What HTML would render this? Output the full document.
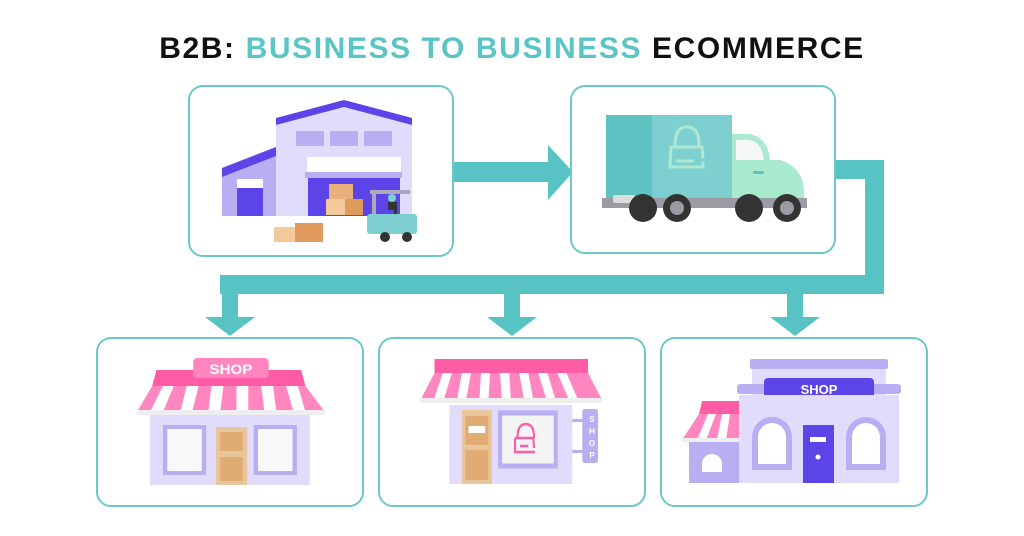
<!DOCTYPE html>
<html><head><meta charset="utf-8"><style>
html,body{margin:0;padding:0;background:#fff;width:1024px;height:536px;overflow:hidden}
svg{display:block}
</style></head><body>
<svg width="1024" height="536" viewBox="0 0 1024 536" xmlns="http://www.w3.org/2000/svg">
<text x="512" y="58" text-anchor="middle" font-family="Liberation Sans, sans-serif" font-weight="bold" font-size="30" letter-spacing="1.6"><tspan fill="#111">B2B: </tspan><tspan fill="#5bc4c4">BUSINESS TO BUSINESS </tspan><tspan fill="#111">ECOMMERCE</tspan></text>

<!-- connectors -->
<g fill="#58c3c5">
<rect x="453" y="162" width="97" height="20"/>
<polygon points="548,145 573,172 548,200"/>
<rect x="835" y="160" width="49" height="19"/>
<rect x="865" y="160" width="19" height="133"/>
<rect x="220" y="275" width="664" height="19"/>
<rect x="222" y="293" width="16" height="24"/><polygon points="205,317 255,317 230,336"/>
<rect x="504" y="293" width="16" height="24"/><polygon points="487,317 537,317 512,336"/>
<rect x="787" y="293" width="16" height="24"/><polygon points="770,317 820,317 795,336"/>
</g>

<!-- boxes -->
<g fill="#fff" stroke="#6cc8c8" stroke-width="2">
<rect x="189" y="86" width="264" height="170" rx="14"/>
<rect x="571" y="86" width="264" height="167" rx="14"/>
<rect x="97" y="338" width="266" height="168" rx="14"/>
<rect x="379" y="338" width="266" height="168" rx="14"/>
<rect x="661" y="338" width="266" height="168" rx="14"/>
</g>

<!-- warehouse -->
<polygon points="222,172 276,150 276,216 222,216" fill="#b9aef2"/>
<polygon points="222,168 276,147 276,156 222,177" fill="#5b45e8"/>
<rect x="237" y="179" width="26" height="37" fill="#5b45e8"/><rect x="237" y="179" width="26" height="9" fill="#fff"/>
<polygon points="276,124 344,104 412,124 412,216 276,216" fill="#e0dcfb"/>
<polygon points="276,118 344,100 412,118 412,125 344,107 276,125" fill="#5b45e8"/>
<rect x="296" y="131" width="28" height="15" fill="#b9aef2"/><rect x="330" y="131" width="28" height="15" fill="#b9aef2"/><rect x="364" y="131" width="28" height="15" fill="#b9aef2"/>
<rect x="307" y="157" width="94" height="15" fill="#fff"/>
<rect x="305" y="172" width="97" height="6" fill="#b9aef2"/>
<rect x="308" y="178" width="92" height="38" fill="#5b45e8"/>
<rect x="329" y="184" width="24" height="16" fill="#e8b07a"/><rect x="326" y="199" width="22" height="16" fill="#f3c99b"/><rect x="345" y="199" width="18" height="16" fill="#e09a5c"/>
<rect x="274" y="227" width="22" height="15" fill="#f3c99b"/><rect x="295" y="223" width="28" height="19" fill="#e09a5c"/>
<rect x="370" y="190" width="40" height="4" fill="#aab"/><rect x="372" y="190" width="4" height="40" fill="#aab"/>
<rect x="367" y="214" width="50" height="20" rx="3" fill="#7ecfcf"/>
<circle cx="385" cy="237" r="5" fill="#333"/><circle cx="407" cy="237" r="5" fill="#333"/>
<circle cx="392" cy="198" r="4" fill="#7ecfcf"/><rect x="388" y="202" width="9" height="12" fill="#333"/><rect x="384" y="210" width="10" height="4" fill="#5b45e8"/>

<!-- truck -->
<rect x="606" y="115" width="46" height="84" fill="#5ec2c2"/>
<rect x="652" y="115" width="80" height="84" fill="#7ecfcf"/>
<path d="M675 145 q0 -18 12 -18 q12 0 12 18 M672 147 h30 l1 10 M671 147 l-1 20 h33 v-4 M677 161 h16" fill="none" stroke="#aee8d4" stroke-width="3" stroke-linecap="round"/>
<path d="M732 134 h18 q18 4 20 26 h10 q22 6 24 30 v9 h-72z" fill="#aaeacf"/>
<path d="M736 140 h13 q13 2 15 20 h-28z" fill="#f7f7f7"/>
<rect x="753" y="171" width="11" height="3" rx="1.5" fill="#5ec2c2"/>
<rect x="602" y="198" width="205" height="10" fill="#9c9aa3"/>
<rect x="613" y="195" width="22" height="8" rx="2" fill="#ddd"/>
<circle cx="643" cy="208" r="14" fill="#333"/><circle cx="677" cy="208" r="14" fill="#333"/><circle cx="677" cy="208" r="7" fill="#9c9aa3"/>
<circle cx="749" cy="208" r="14" fill="#333"/><circle cx="787" cy="208" r="14" fill="#333"/><circle cx="787" cy="208" r="7" fill="#9c9aa3"/>

<!-- shop 1 -->
<g transform="matrix(1.08,0,0,1,-7.7,0)">
<rect x="146" y="411" width="148" height="74" fill="#e1dcfb"/>
<rect x="160" y="427" width="36" height="46" fill="#f8f8f8" stroke="#b9aef2" stroke-width="4"/>
<rect x="244" y="427" width="36" height="46" fill="#f8f8f8" stroke="#b9aef2" stroke-width="4"/>
<rect x="207" y="427" width="29" height="58" fill="#e9c59c"/><rect x="211" y="432" width="21" height="19" fill="#e1ac74"/><rect x="211" y="457" width="21" height="24" fill="#e1ac74"/>
<polygon points="152,370 286,370 290,386 148,386" fill="#ff5ca6"/>
<polygon points="148,386 290,386 308,412 134,412" fill="#ff86be"/>
<g fill="#fff"><polygon points="158,386 168,386 158,412 146,412"/><polygon points="180,386 191,386 185,412 174,412"/><polygon points="203,386 214,386 211,412 200,412"/><polygon points="226,386 237,386 237,412 226,412"/><polygon points="249,386 260,386 263,412 252,412"/><polygon points="272,386 283,386 290,412 279,412"/></g>
<rect x="134" y="410" width="174" height="5" fill="#eee"/>
<rect x="186" y="358" width="70" height="20" rx="4" fill="#ff86be"/>
<text x="221" y="374" text-anchor="middle" font-family="Liberation Sans, sans-serif" font-weight="bold" font-size="14" fill="#fff">SHOP</text>
</g>

<!-- shop 2 -->
<g transform="matrix(0.83,0,0,1,105,0)">
<rect x="415" y="405" width="148" height="79" fill="#e1dcfb"/>
<rect x="397" y="359" width="185" height="14" fill="#ff5ca6"/>
<polygon points="397,373 582,373 599,400 380,400" fill="#ff86be"/>
<g fill="#fff"><polygon points="407,373 418,373 408,400 396,400"/><polygon points="430,373 441,373 435,400 424,400"/><polygon points="453,373 464,373 462,400 451,400"/><polygon points="476,373 487,373 489,400 478,400"/><polygon points="499,373 510,373 516,400 505,400"/><polygon points="522,373 533,373 543,400 532,400"/><polygon points="545,373 556,373 570,400 559,400"/></g>
<rect x="380" y="398" width="219" height="5" fill="#eee"/>
<rect x="430" y="410" width="36" height="74" fill="#e9c59c"/><rect x="434" y="416" width="28" height="29" fill="#e1ac74"/><rect x="434" y="450" width="28" height="30" fill="#e1ac74"/><rect x="438" y="426" width="20" height="7" fill="#fff"/>
<rect x="476" y="413" width="67" height="53" fill="#f4f4f4" stroke="#b9aef2" stroke-width="5"/>
<path d="M497 438 q0 -14 10 -14 q10 0 10 14 M494 438 h22 l1 10 M494 438 v14 h24 M500 446 h10" fill="none" stroke="#ff5ca6" stroke-width="2.5"/>
<rect x="563" y="419" width="12" height="3" fill="#b9aef2"/><rect x="563" y="450" width="12" height="3" fill="#b9aef2"/>
<rect x="575" y="409" width="19" height="54" rx="3" fill="#b9aef2"/>
</g>
<text font-family="Liberation Sans, sans-serif" font-weight="bold" font-size="8" fill="#fff" text-anchor="middle"><tspan x="592" y="422">S</tspan><tspan x="592" y="434">H</tspan><tspan x="592" y="446">O</tspan><tspan x="592" y="458">P</tspan></text>

<!-- shop 3 -->
<rect x="750" y="359" width="138" height="10" rx="2" fill="#b9aef2"/>
<rect x="752" y="369" width="134" height="114" fill="#e1dcfb"/>
<rect x="737" y="384" width="164" height="10" rx="3" fill="#b9aef2"/>
<rect x="764" y="378" width="110" height="21" rx="4" fill="#5b45e8"/>
<text x="819" y="394" text-anchor="middle" font-family="Liberation Sans, sans-serif" font-weight="bold" font-size="13" fill="#fff">SHOP</text>
<rect x="739" y="395" width="160" height="88" fill="#e1dcfb"/>
<path d="M752 470 v-33 a20 20 0 0 1 40 0 v33z" fill="#b9aef2"/><path d="M758 464 v-27 a14 14 0 0 1 28 0 v27z" fill="#fff"/>
<path d="M846 470 v-33 a20 20 0 0 1 40 0 v33z" fill="#b9aef2"/><path d="M852 464 v-27 a14 14 0 0 1 28 0 v27z" fill="#fff"/>
<rect x="803" y="425" width="31" height="58" fill="#5b45e8"/><rect x="810" y="437" width="16" height="5" fill="#fff"/><circle cx="818" cy="457" r="2.5" fill="#fff"/>
<rect x="689" y="440" width="50" height="43" fill="#b9aef2"/>
<path d="M702 472 v-8 a10 10 0 0 1 20 0 v8z" fill="#fff"/>
<polygon points="702,401 739,401 739,414 699,414" fill="#ff5ca6"/>
<polygon points="699,414 739,414 739,440 682,440" fill="#ff86be"/>
<g fill="#fff"><polygon points="708,414 716,414 706,440 697,440"/><polygon points="722,414 730,414 726,440 717,440"/></g>
<rect x="682" y="438" width="57" height="4" fill="#eee"/>
</svg>
</body></html>
